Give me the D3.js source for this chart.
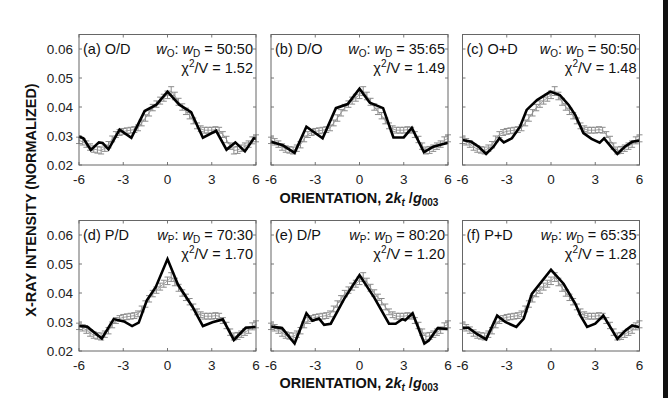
<!DOCTYPE html>
<html>
<head>
<meta charset="utf-8">
<script src="https://cdn.jsdelivr.net/npm/d3@7"></script>
<style>
  html, body { margin: 0; padding: 0; background: #fff; }
  svg { display: block; font-family: "Liberation Sans", Arial, sans-serif; }
</style>
</head>
<body>
<svg id="chart" width="668" height="398"></svg>
<script>
// measured orientation scan (same in every panel), step 0.25
const expX = d3.range(-6, 6.001, 0.25);
const expY = [
  0.0285, 0.0280, 0.0272, 0.0262, 0.0255, 0.0252, 0.0250, 0.0258, 0.0270,
  0.0290, 0.0305, 0.0312, 0.0316, 0.0318, 0.0320, 0.0322, 0.0328, 0.0345,
  0.0362, 0.0380, 0.0398, 0.0410, 0.0422, 0.0432, 0.0442, 0.0455, 0.0438,
  0.0418, 0.0400, 0.0385, 0.0370, 0.0352, 0.0335, 0.0325, 0.0320, 0.0320,
  0.0320, 0.0322, 0.0320, 0.0305, 0.0288, 0.0265, 0.0250, 0.0252, 0.0258,
  0.0265, 0.0272, 0.0285, 0.0292
];
const expErr = [
  0.0011, 0.0011, 0.0011, 0.0011, 0.0011, 0.0011, 0.0012, 0.0011, 0.0011,
  0.0010, 0.0010, 0.0010, 0.0010, 0.0010, 0.0010, 0.0010, 0.0010, 0.0010,
  0.0011, 0.0011, 0.0011, 0.0011, 0.0012, 0.0012, 0.0013, 0.0015, 0.0013,
  0.0012, 0.0011, 0.0011, 0.0011, 0.0010, 0.0010, 0.0010, 0.0010, 0.0010,
  0.0010, 0.0010, 0.0010, 0.0010, 0.0011, 0.0011, 0.0012, 0.0012, 0.0011,
  0.0011, 0.0011, 0.0012, 0.0012
];

// model fits, [orientation, intensity] vertices
const fitA = [[-6,0.0298],[-5.7,0.0292],[-5.2,0.0252],[-4.65,0.0278],[-4.4,0.0276],[-4.0,0.0254],[-3.25,0.0322],[-2.45,0.0294],[-1.55,0.0386],[-0.75,0.0408],[0,0.0453],[0.8,0.0408],[1.6,0.0382],[2.4,0.0294],[3.3,0.0318],[4.0,0.0253],[4.6,0.0278],[5.25,0.0247],[5.85,0.0292],[6,0.0291]];
const fitB = [[-6,0.0280],[-5.2,0.0268],[-4.4,0.0242],[-3.6,0.0332],[-2.5,0.0292],[-1.6,0.0396],[-0.8,0.0410],[0,0.0463],[0.7,0.0415],[1.6,0.0396],[2.3,0.0295],[3.0,0.0295],[3.55,0.0328],[4.37,0.0244],[5.0,0.0263],[6,0.0277]];
const fitC = [[-6,0.0286],[-5.4,0.0280],[-4.9,0.0263],[-4.4,0.0238],[-3.9,0.0263],[-3.5,0.0292],[-3.2,0.0278],[-2.65,0.0292],[-2.1,0.0332],[-1.65,0.0390],[-0.95,0.0424],[-0.05,0.0453],[0.6,0.0441],[1.2,0.0407],[1.65,0.0372],[2.2,0.0310],[2.75,0.0290],[3.3,0.0277],[3.6,0.0292],[4.15,0.0258],[4.5,0.0238],[5.0,0.0263],[5.5,0.0280],[6,0.0284]];
const fitD = [[-6,0.0286],[-5.45,0.0284],[-4.45,0.0243],[-3.65,0.0310],[-2.95,0.0302],[-2.4,0.0286],[-1.95,0.0298],[-1.4,0.0375],[-0.8,0.0420],[0,0.0517],[0.7,0.0430],[1.7,0.0352],[2.4,0.0286],[3.05,0.0299],[3.75,0.0309],[4.5,0.0238],[5.3,0.0280],[6,0.0283]];
const fitE = [[-6,0.0284],[-5.25,0.0279],[-4.4,0.0226],[-3.6,0.0330],[-3.2,0.0304],[-2.75,0.0312],[-2.4,0.0290],[-1.95,0.0294],[-1.05,0.0379],[0,0.0462],[1.0,0.0384],[2.0,0.0294],[2.45,0.0294],[2.9,0.0310],[3.1,0.0306],[3.6,0.0330],[4.4,0.0226],[4.7,0.0236],[5.3,0.0279],[6,0.0276]];
const fitF = [[-6,0.0280],[-5.6,0.0280],[-5.0,0.0258],[-4.4,0.0240],[-3.65,0.0322],[-3.1,0.0300],[-2.35,0.0283],[-1.85,0.0312],[-1.3,0.0397],[0,0.0480],[0.85,0.0432],[1.65,0.0363],[2.0,0.0322],[2.45,0.0283],[3.0,0.0294],[3.55,0.0322],[4.5,0.0242],[5.05,0.0271],[5.5,0.0288],[6,0.0282]];

const panelTags = ['(a) O/D', '(b) D/O', '(c) O+D', '(d) P/D', '(e) D/P', '(f) P+D'];
const weightSub = ['O', 'O', 'O', 'P', 'P', 'P'];
const ratios = ['50:50', '35:65', '50:50', '70:30', '80:20', '65:35'];
const chiV = ['1.52', '1.49', '1.48', '1.70', '1.20', '1.28'];
const fits = [fitA, fitB, fitC, fitD, fitE, fitF];

const xTicks = [-6, -3, 0, 3, 6];
const yTicks = [0.02, 0.03, 0.04, 0.05, 0.06];

const svg = d3.select('#chart');
const W = 177, H = 130.5;
const lefts = [79, 271, 462.5];
const tops = [34.5, 220.5];

const x = d3.scaleLinear().domain([-6, 6]).range([0, W]);
const y = d3.scaleLinear().domain([0.02, 0.065]).range([H, 0]);

const line = d3.line().x(d => x(d[0])).y(d => y(d[1]));
const expPts = expX.map((v, i) => [v, expY[i], expErr[i]]);

fits.forEach((fit, i) => {
  const col = i % 3, row = Math.floor(i / 3);
  const g = svg.append('g').attr('transform', `translate(${lefts[col]},${tops[row]})`);

  // inward ticks on all four sides
  const tk = 3;
  yTicks.forEach(t => {
    g.append('line').attr('x1', 0).attr('x2', tk).attr('y1', y(t)).attr('y2', y(t)).attr('stroke', '#777');
    g.append('line').attr('x1', W - tk).attr('x2', W).attr('y1', y(t)).attr('y2', y(t)).attr('stroke', '#777');
  });
  xTicks.forEach(t => {
    g.append('line').attr('x1', x(t)).attr('x2', x(t)).attr('y1', H).attr('y2', H - tk).attr('stroke', '#777');
    g.append('line').attr('x1', x(t)).attr('x2', x(t)).attr('y1', 0).attr('y2', tk).attr('stroke', '#777');
  });

  // experimental data with error bars
  g.append('path').datum(expPts).attr('d', line)
    .attr('fill', 'none').attr('stroke', '#a0a0a0').attr('stroke-width', 1);
  const eb = g.append('g').attr('stroke', '#8c8c8c').attr('stroke-width', 1);
  expPts.forEach(p => {
    const cx = x(p[0]);
    eb.append('line').attr('x1', cx).attr('x2', cx).attr('y1', y(p[1] - p[2])).attr('y2', y(p[1] + p[2]));
    eb.append('line').attr('x1', cx - 3).attr('x2', cx + 3).attr('y1', y(p[1] + p[2])).attr('y2', y(p[1] + p[2]));
    eb.append('line').attr('x1', cx - 3).attr('x2', cx + 3).attr('y1', y(p[1] - p[2])).attr('y2', y(p[1] - p[2]));
  });

  // model fit
  g.append('path').datum(fit).attr('d', line)
    .attr('fill', 'none').attr('stroke', '#000').attr('stroke-width', 2.6)
    .attr('stroke-linejoin', 'miter');

  // frame
  g.append('rect').attr('width', W).attr('height', H)
    .attr('fill', 'none').attr('stroke', '#666').attr('stroke-width', 1);

  // tick labels
  xTicks.forEach(t => {
    g.append('text').attr('x', x(t)).attr('y', H + 19).attr('text-anchor', 'middle')
      .attr('font-size', 13.5).attr('fill', '#222').text(t);
  });
  if (col === 0) {
    yTicks.forEach(t => {
      g.append('text').attr('x', -6).attr('y', y(t) + 5).attr('text-anchor', 'end')
        .attr('font-size', 13.5).attr('fill', '#222').text(d3.format('.2f')(t));
    });
  }

  // annotations
  g.append('text').attr('x', 4).attr('y', 19).attr('font-size', 14.5).attr('fill', '#111').text(panelTags[i]);

  const wt = g.append('text').attr('x', W - 3).attr('y', 19).attr('text-anchor', 'end')
    .attr('font-size', 14.5).attr('fill', '#111');
  wt.append('tspan').attr('font-style', 'italic').text('w');
  wt.append('tspan').attr('font-size', 10).attr('dy', 3).text(weightSub[i]);
  wt.append('tspan').attr('dy', -3).text(': ');
  wt.append('tspan').attr('font-style', 'italic').text('w');
  wt.append('tspan').attr('font-size', 10).attr('dy', 3).text('D');
  wt.append('tspan').attr('dy', -3).text(' = ' + ratios[i]);

  const ct = g.append('text').attr('x', W - 3).attr('y', 38).attr('text-anchor', 'end')
    .attr('font-size', 14.5).attr('fill', '#111');
  ct.append('tspan').text('\u03C7');
  ct.append('tspan').attr('font-size', 10).attr('dy', -6).text('2');
  ct.append('tspan').attr('dy', 6).text('/V = ' + chiV[i]);
});

// x-axis titles
[203, 388].forEach(yy => {
  const t = svg.append('text').attr('x', 359).attr('y', yy).attr('text-anchor', 'middle')
    .attr('font-size', 14.5).attr('font-weight', 'bold').attr('fill', '#111');
  t.append('tspan').text('ORIENTATION, 2');
  t.append('tspan').attr('font-style', 'italic').text('k');
  t.append('tspan').attr('font-style', 'italic').attr('font-size', 10).attr('dy', 3).text('t');
  t.append('tspan').attr('dy', -3).text(' /');
  t.append('tspan').attr('font-style', 'italic').text('g');
  t.append('tspan').attr('font-size', 10).attr('dy', 3).text('003');
});

// y-axis title
svg.append('text').attr('transform', 'translate(36,200) rotate(-90)')
  .attr('text-anchor', 'middle').attr('font-size', 14.5).attr('font-weight', 'bold')
  .attr('fill', '#111').text('X-RAY INTENSITY (NORMALIZED)');

// dark strip on right edge of the scan
svg.append('rect').attr('x', 663).attr('y', 0).attr('width', 5).attr('height', 398).attr('fill', '#111');
</script>
</body>
</html>
